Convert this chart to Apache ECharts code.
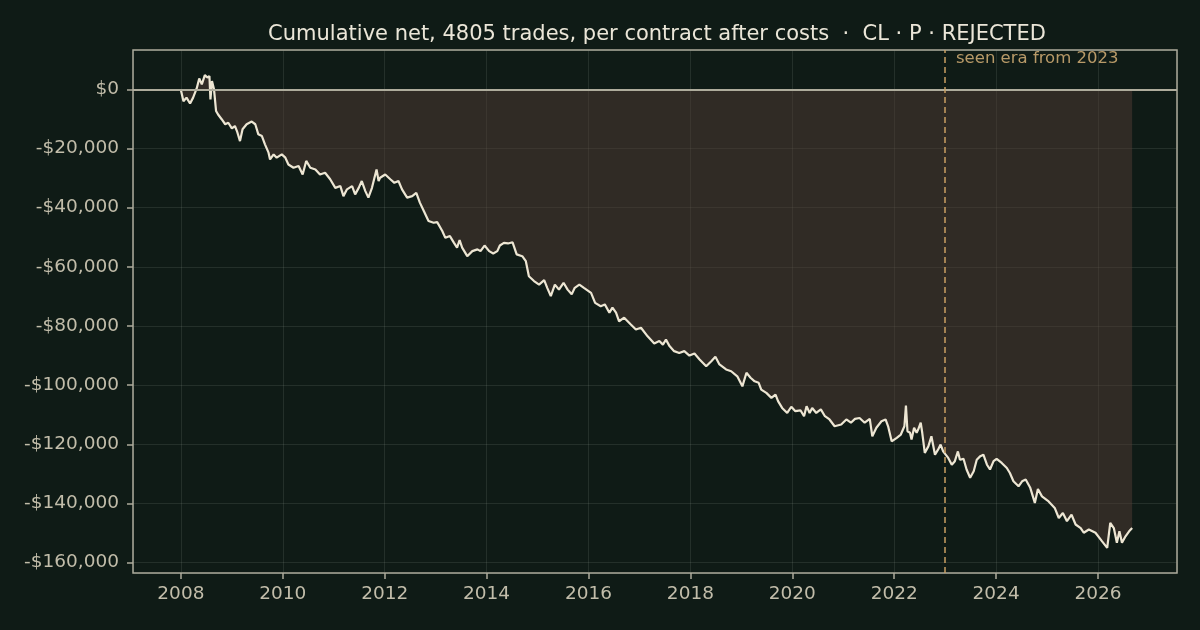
<!DOCTYPE html>
<html>
<head>
<meta charset="utf-8">
<style>
  html, body { margin: 0; padding: 0; background: #0f1b16; }
  #chart { width: 1200px; height: 630px; }
</style>
<script src="https://cdn.jsdelivr.net/npm/echarts@6/dist/echarts.min.js"></script>
</head>
<body>
<div id="chart"></div>
<script>
var years = [
  2008.00, 2008.05, 2008.11, 2008.18, 2008.24, 2008.31, 2008.36, 2008.41, 2008.47, 2008.52,
  2008.56, 2008.58, 2008.61, 2008.65, 2008.69, 2008.73, 2008.80, 2008.87, 2008.93, 2009.00,
  2009.06, 2009.10, 2009.16, 2009.21, 2009.29, 2009.39, 2009.46, 2009.52, 2009.59, 2009.65,
  2009.72, 2009.75, 2009.82, 2009.88, 2009.98, 2010.05, 2010.11, 2010.21, 2010.31, 2010.39,
  2010.46, 2010.54, 2010.64, 2010.73, 2010.83, 2010.93, 2011.03, 2011.13, 2011.19, 2011.26,
  2011.36, 2011.42, 2011.49, 2011.55, 2011.62, 2011.68, 2011.75, 2011.84, 2011.88, 2011.91,
  2012.01, 2012.11, 2012.19, 2012.27, 2012.34, 2012.44, 2012.54, 2012.62, 2012.69, 2012.77,
  2012.86, 2012.96, 2013.03, 2013.13, 2013.19, 2013.28, 2013.36, 2013.42, 2013.47, 2013.52,
  2013.62, 2013.72, 2013.82, 2013.88, 2013.96, 2014.05, 2014.13, 2014.21, 2014.26, 2014.34,
  2014.42, 2014.51, 2014.59, 2014.70, 2014.77, 2014.83, 2014.93, 2015.03, 2015.13, 2015.19,
  2015.26, 2015.34, 2015.42, 2015.51, 2015.59, 2015.67, 2015.73, 2015.82, 2015.91, 2016.05,
  2016.13, 2016.24, 2016.32, 2016.41, 2016.47, 2016.54, 2016.60, 2016.70, 2016.83, 2016.93,
  2017.03, 2017.16, 2017.29, 2017.39, 2017.46, 2017.52, 2017.59, 2017.68, 2017.78, 2017.88,
  2017.98, 2018.08, 2018.18, 2018.31, 2018.41, 2018.49, 2018.57, 2018.70, 2018.80, 2018.92,
  2019.02, 2019.10, 2019.18, 2019.26, 2019.34, 2019.39, 2019.49, 2019.59, 2019.67, 2019.72,
  2019.80, 2019.90, 2019.98, 2020.06, 2020.16, 2020.23, 2020.28, 2020.34, 2020.39, 2020.47,
  2020.56, 2020.64, 2020.73, 2020.83, 2020.96, 2021.06, 2021.15, 2021.23, 2021.32, 2021.42,
  2021.52, 2021.57, 2021.65, 2021.75, 2021.83, 2021.88, 2021.95, 2022.05, 2022.13, 2022.20,
  2022.23, 2022.26, 2022.31, 2022.34, 2022.39, 2022.44, 2022.47, 2022.52, 2022.55, 2022.60,
  2022.67, 2022.73, 2022.80, 2022.86, 2022.91, 2022.96, 2023.06, 2023.13, 2023.19, 2023.25,
  2023.29, 2023.36, 2023.42, 2023.49, 2023.56, 2023.62, 2023.69, 2023.75, 2023.82, 2023.88,
  2023.95, 2024.01, 2024.11, 2024.21, 2024.27, 2024.34, 2024.44, 2024.51, 2024.58, 2024.67,
  2024.76, 2024.82, 2024.90, 2025.03, 2025.15, 2025.23, 2025.31, 2025.39, 2025.48, 2025.56,
  2025.66, 2025.72, 2025.82, 2025.95, 2026.08, 2026.18, 2026.24, 2026.31, 2026.37, 2026.42,
  2026.47, 2026.54, 2026.61, 2026.67
];

// cumulative net in dollars at each of those points
var cumNet = [
  -200, -4000, -2800, -4800, -2800, 300, 3700, 1700, 4800, 4000,
  4500, -3400, 2800, 0, -7300, -8500, -10100, -11800, -11300, -13200,
  -12400, -14100, -17500, -13500, -11800, -10900, -11800, -15200, -15800, -18600,
  -21400, -23700, -22000, -23100, -22000, -23100, -25400, -26500, -25900, -28800,
  -24200, -26500, -27100, -28800, -28200, -30400, -33300, -32700, -36100, -33800,
  -32700, -35500, -33300, -31000, -34400, -36600, -33300, -27100, -31000, -29900,
  -28800, -30400, -31600, -31000, -33800, -36600, -36100, -35000, -38300, -41200,
  -44500, -45100, -44900, -47900, -50200, -49600, -51900, -53500, -51000, -53500,
  -56400, -54700, -54100, -54700, -52800, -54700, -55500, -54700, -52800, -51900,
  -52100, -51700, -55800, -56400, -58100, -63200, -64800, -66000, -64500, -67100,
  -69900, -66000, -67700, -65400, -67700, -69300, -67100, -66000, -67100, -68800,
  -72200, -73300, -72700, -75500, -73800, -75500, -78400, -77200, -79500, -81200,
  -80600, -83500, -85900, -85100, -86300, -84600, -86800, -88500, -89100, -88500,
  -90000, -89300, -91300, -93600, -91900, -90400, -93000, -94700, -95300, -97000,
  -100400, -95800, -97500, -98700, -99200, -101500, -102600, -104300, -103200, -105400,
  -107700, -109400, -107300, -108800, -108500, -110500, -107100, -109400, -107700, -109400,
  -108200, -110500, -111600, -113900, -113300, -111600, -112700, -111400, -111100, -112700,
  -111400, -117300, -114400, -112200, -111600, -113900, -119000, -117800, -116700, -113900,
  -106900, -115600, -116100, -118400, -114400, -116100, -115000, -112700, -116100, -122900,
  -120700, -117300, -123500, -121800, -120100, -122400, -124600, -126900, -125700, -122400,
  -125200, -124900, -128500, -131300, -129100, -125200, -124000, -123500, -126900, -128500,
  -125700, -124900, -126300, -128000, -129700, -132500, -134200, -132500, -131900, -134700,
  -139800, -135100, -137600, -139300, -141500, -144900, -143200, -146000, -143800, -147100,
  -148300, -149900, -148800, -149900, -152800, -155000, -146600, -148300, -153300, -149400,
  -153300, -151100, -149400, -148300
];

var eraStart = 2023;        // start of the "seen" era
var xRange = [2007.06, 2027.55];
var yRange = [-163500, 13300];

var points = years.map(function (y, i) { return [y, cumNet[i]]; });

var frameColor = '#aeac9c';
var labelColor = '#c2bdaa';
var gridColor = 'rgba(150,160,150,0.16)';

var chart = echarts.init(document.getElementById('chart'), null, { renderer: 'canvas' });

chart.setOption({
  backgroundColor: '#0f1b16',
  animation: false,
  title: {
    text: 'Cumulative net, 4805 trades, per contract after costs  \u00b7  CL \u00b7 P \u00b7 REJECTED',
    left: 652,
    top: 19,
    textAlign: 'center',
    textStyle: { color: '#ebe6d8', fontSize: 21, fontWeight: 'normal', fontFamily: 'DejaVu Sans' }
  },
  grid: {
    left: 133, right: 23, top: 50, bottom: 57,
    show: true,
    borderColor: frameColor,
    borderWidth: 1.5
  },
  xAxis: {
    type: 'value',
    min: xRange[0], max: xRange[1],
    splitNumber: 10,
    axisLine: { show: false, onZero: false },
    axisTick: { show: true, length: 6, lineStyle: { color: frameColor, width: 1.5 } },
    axisLabel: {
      color: labelColor, fontSize: 18.5, fontFamily: 'DejaVu Sans', margin: 12,
      showMinLabel: false, showMaxLabel: false,
      formatter: function (v) {
        return Math.abs(v - Math.round(v)) < 1e-6 ? String(Math.round(v)) : '';
      }
    },
    splitLine: { show: true, lineStyle: { color: gridColor, width: 1 } }
  },
  yAxis: {
    type: 'value',
    min: yRange[0], max: yRange[1],
    splitNumber: 9,
    axisLine: { show: false, onZero: false },
    axisTick: { show: true, length: 6, lineStyle: { color: frameColor, width: 1.5 } },
    axisLabel: {
      color: labelColor, fontSize: 18.5, fontFamily: 'DejaVu Sans', margin: 14,
      padding: [3, 0, 0, 0],
      showMinLabel: false, showMaxLabel: false,
      formatter: function (v) {
        if (Math.abs(v % 20000) > 1e-6) return '';
        if (v === 0) return '$0';
        return (v < 0 ? '-$' : '$') + Math.abs(v).toLocaleString('en-US');
      }
    },
    splitLine: { show: true, lineStyle: { color: gridColor, width: 1 } }
  },
  series: [{
    type: 'line',
    data: points,
    showSymbol: false,
    lineStyle: { color: '#ede6d3', width: 2.2 },
    // fill between the curve and zero; translucent so the grid shows through
    areaStyle: { color: 'rgba(82,60,52,0.5)', opacity: 1, origin: 0 },
    z: 3,
    markLine: {
      silent: true,
      symbol: ['none', 'none'],
      label: { show: false },
      data: [
        { yAxis: 0, lineStyle: { color: frameColor, width: 1.8, type: 'solid' } },
        { xAxis: eraStart, lineStyle: { color: '#c9a063', width: 1.5, type: [6, 4] } }
      ]
    }
  }],
  graphic: [{
    type: 'text',
    left: 956,
    top: 50,
    style: {
      text: 'seen era from ' + eraStart,
      fill: '#b89a68',
      font: '16.5px "DejaVu Sans"'
    }
  }]
});
</script>
</body>
</html>
